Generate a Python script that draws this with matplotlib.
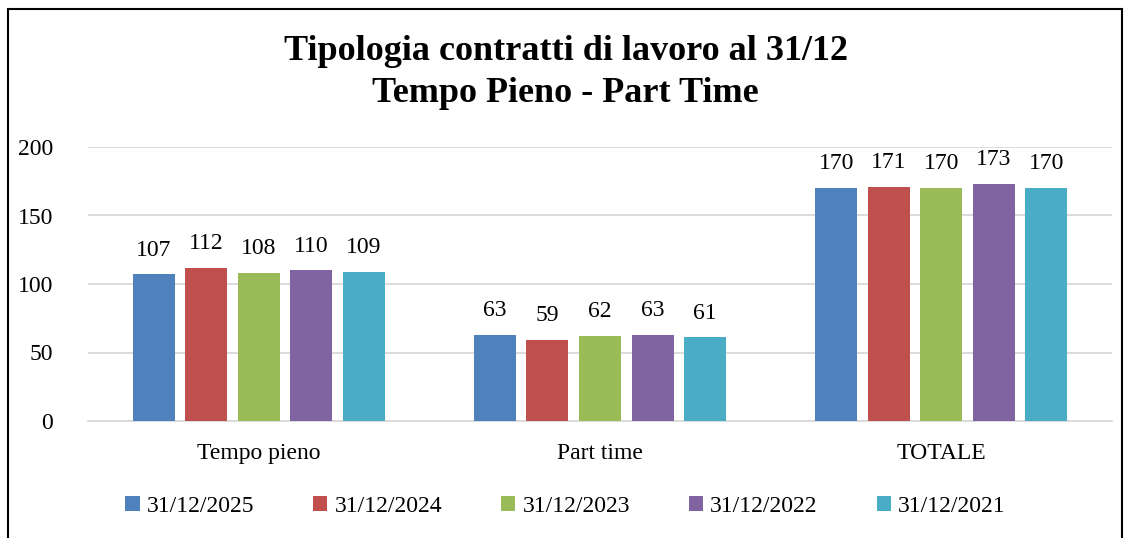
import matplotlib.pyplot as plt
from matplotlib.patches import Rectangle
import numpy as np

categories = ["Tempo pieno", "Part time", "TOTALE"]
series = ["31/12/2025", "31/12/2024", "31/12/2023", "31/12/2022", "31/12/2021"]
values = [
    [107, 63, 170],
    [112, 59, 171],
    [108, 62, 170],
    [110, 63, 173],
    [109, 61, 170],
]
colors = ["#4F81BD", "#C0504D", "#9BBB59", "#8064A2", "#4BACC6"]

plt.rcParams['font.family'] = ['Liberation Serif', 'DejaVu Serif']

W, H = 1131, 538
fig = plt.figure(figsize=(W / 100, H / 100), dpi=100)

# cornice del grafico
fig.patches.append(Rectangle((8 / W, -0.05), (1122 - 8) / W, (H - 9) / H + 0.05,
                             transform=fig.transFigure, fill=False,
                             edgecolor="black", linewidth=1.5))

ax = fig.add_axes([88 / W, (H - 421) / H, 1024 / W, (421 - 147) / H])

x = np.arange(len(categories))
step = 0.154
width = 0.123
for i, (name, vals) in enumerate(zip(series, values)):
    pos = x + (i - 2) * step
    bars = ax.bar(pos, vals, width, color=colors[i], label=name, zorder=3)
    for b, v in zip(bars, vals):
        ax.text(b.get_x() + b.get_width() / 2, v + 10, str(v),
                ha="center", va="bottom", fontsize=17)

ax.set_xlim(-0.5, 2.5)
ax.set_ylim(0, 200)
ax.set_yticks([0, 50, 100, 150, 200])
ax.set_xticks(x)
ax.set_xticklabels(categories)
ax.tick_params(axis="both", length=0, labelsize=17)
ax.tick_params(axis="y", pad=25)
ax.tick_params(axis="x", pad=16)
ax.grid(axis="y", color="#D9D9D9", linewidth=1.3, zorder=0)
for s in ["top", "right", "left"]:
    ax.spines[s].set_visible(False)
ax.spines["bottom"].set_color("#D9D9D9")
ax.spines["bottom"].set_linewidth(1.3)

fig.text(0.5, (H - 51) / H, "Tipologia contratti di lavoro al 31/12",
         ha="center", va="center", fontsize=26, fontweight="bold")
fig.text(0.5, (H - 94) / H, "Tempo Pieno - Part Time",
         ha="center", va="center", fontsize=26, fontweight="bold")

fig.legend(loc="center", bbox_to_anchor=(0.5, (H - 506) / H), ncol=5,
           frameon=False, fontsize=17, handlelength=0.6, handleheight=0.6,
           handletextpad=0.3, columnspacing=2.5)

fig.savefig("out.png", dpi=100)
